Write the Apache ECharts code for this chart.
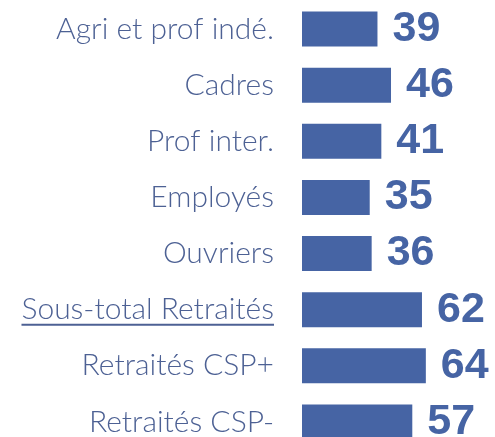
<!DOCTYPE html>
<html>
<head>
<meta charset="utf-8">
<script src="https://cdn.jsdelivr.net/npm/echarts@6/dist/echarts.min.js"></script>
<style>html,body{margin:0;padding:0;background:#fff;}#c{width:495px;height:437px;}</style>
</head>
<body>
<div id="c"></div>
<script>
const categories = ["Agri et prof indé.", "Cadres", "Prof inter.", "Employés", "Ouvriers", "Sous-total Retraités", "Retraités CSP+", "Retraités CSP-"];
const values = [39, 46, 41, 35, 36, 62, 64, 57];
const underlined = ["Sous-total Retraités"];

const chart = echarts.init(document.getElementById('c'), null, {renderer: 'canvas'});
const textColor = '#4D6194';
const barColor = '#4664A4';
const catFont = 'Lato';
const catSize = 30;
const catWeight = 300;
const labelMargin = 28;

chart.setOption({
  animation: false,
  grid: {left: 302, top: 1, width: 193.5, height: 449, containLabel: false, outerBoundsMode: 'none'},
  xAxis: {type: 'value', min: 0, max: 100, show: false},
  yAxis: {
    type: 'category', data: categories, inverse: true,
    axisLine: {show: false}, axisTick: {show: false}, splitLine: {show: false},
    axisLabel: {color: textColor, fontFamily: catFont, fontSize: catSize, fontWeight: catWeight, margin: labelMargin}
  },
  series: [{
    type: 'bar', data: values, barWidth: 35,
    itemStyle: {color: barColor},
    label: {show: true, position: 'right', distance: 15, color: barColor,
      fontFamily: 'Liberation Sans', fontWeight: 'bold', fontSize: 43}
  }]
});

// underline for highlighted category labels
const ctx = document.createElement('canvas').getContext('2d');
ctx.font = catWeight + ' ' + catSize + 'px ' + catFont;
const gridLeft = 302;
const lines = underlined.map(name => {
  const y = chart.convertToPixel({yAxisIndex: 0}, name);
  const w = ctx.measureText(name).width;
  const x2 = gridLeft - labelMargin;
  return {type: 'line', shape: {x1: x2 - w, y1: y + 15, x2: x2, y2: y + 15}, style: {stroke: textColor, lineWidth: 2}};
});
chart.setOption({graphic: lines});
</script>
</body>
</html>
